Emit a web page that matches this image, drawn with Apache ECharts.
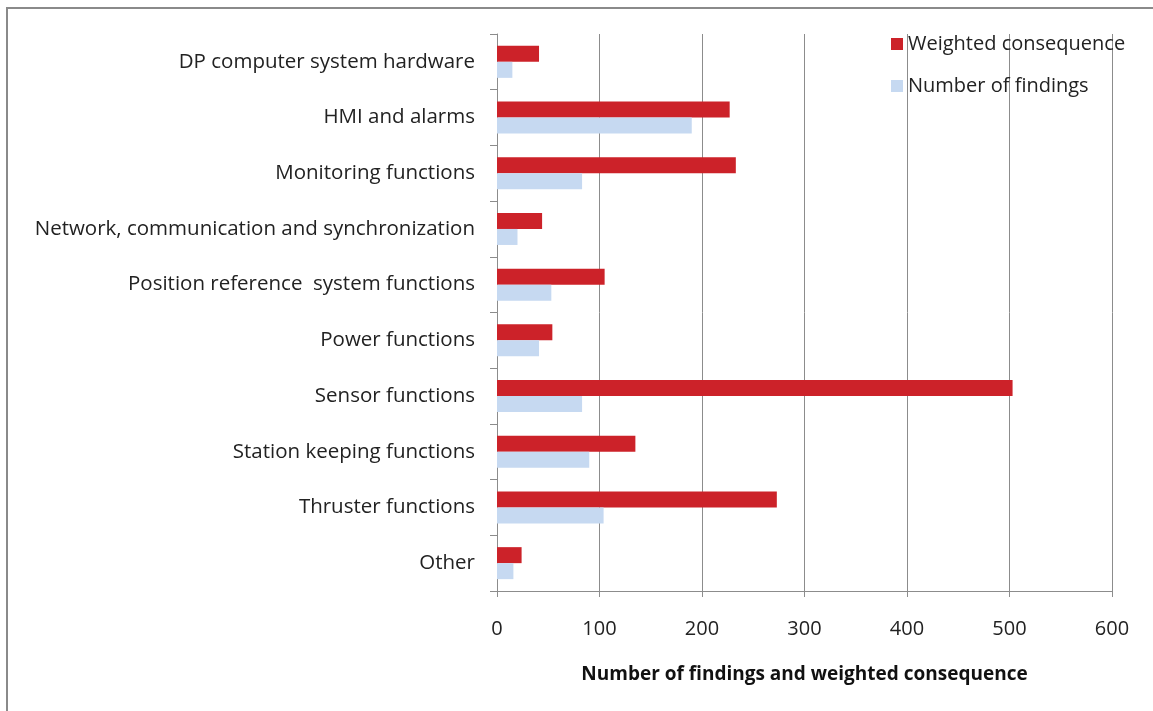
<!DOCTYPE html>
<html>
<head>
<meta charset="utf-8">
<script src="https://cdn.jsdelivr.net/npm/echarts@6/dist/echarts.min.js"></script>
<style>
  html, body { margin: 0; padding: 0; background: #fff; }
  #chart { width: 1153px; height: 711px; }
</style>
</head>
<body>
<div id="chart"></div>
<script>
// DP findings by function group
const categories = [
  'DP computer system hardware',
  'HMI and alarms',
  'Monitoring functions',
  'Network, communication and synchronization',
  'Position reference  system functions',
  'Power functions',
  'Sensor functions',
  'Station keeping functions',
  'Thruster functions',
  'Other'
];
const weightedConsequence = [41, 227, 233, 44, 105, 54, 503, 135, 273, 24];
const numberOfFindings   = [15, 190, 83, 20, 53, 41, 83, 90, 104, 16];
const xTicks = [0, 100, 200, 300, 400, 500, 600];

const FONT = '"Open Sans", "Noto Sans", sans-serif';

const chart = echarts.init(document.getElementById('chart'), null, { renderer: 'canvas' });
chart.setOption({
  animation: false,
  backgroundColor: '#fff',
  graphic: [{
    type: 'rect',
    shape: { x: 7, y: 8, width: 1160, height: 720 },
    style: { fill: 'none', stroke: '#8a8a8a', lineWidth: 2 },
    silent: true
  }],
  grid: { left: 497, right: 41, top: 34, bottom: 120, containLabel: false },
  legend: {
    orient: 'vertical',
    left: 886,
    top: 29,
    itemWidth: 12,
    itemHeight: 12,
    itemGap: 22,
    icon: 'rect',
    itemStyle: { borderWidth: 0 },
    textStyle: { fontFamily: FONT, fontSize: 20, color: '#222' },
    data: ['Weighted consequence', 'Number of findings']
  },
  xAxis: {
    type: 'value',
    min: xTicks[0],
    max: xTicks[xTicks.length - 1],
    interval: 100,
    name: 'Number of findings and weighted consequence',
    nameLocation: 'middle',
    nameGap: 74,
    nameTextStyle: { fontFamily: FONT, fontSize: 19, fontWeight: 'bold', color: '#111' },
    axisLine: { show: true, lineStyle: { color: '#8c8c8c', width: 1 } },
    axisTick: { show: true, length: 6, lineStyle: { color: '#8c8c8c' } },
    axisLabel: { margin: 28, fontFamily: FONT, fontSize: 20, color: '#222' },
    splitLine: { show: true, lineStyle: { color: '#8c8c8c', width: 1 } }
  },
  yAxis: {
    type: 'category',
    inverse: true,
    data: categories,
    axisLine: { show: true, lineStyle: { color: '#8c8c8c', width: 1 } },
    axisTick: { show: true, length: 7, inside: false, lineStyle: { color: '#8c8c8c' } },
    axisLabel: { margin: 22, fontFamily: FONT, fontSize: 20.5, color: '#222' }
  },
  series: [
    {
      name: 'Weighted consequence',
      type: 'bar',
      data: weightedConsequence,
      barWidth: 16,
      barGap: '0%',
      itemStyle: { color: '#CC2229' }
    },
    {
      name: 'Number of findings',
      type: 'bar',
      data: numberOfFindings,
      barWidth: 16,
      barGap: '0%',
      itemStyle: { color: '#C6D9F1' }
    }
  ]
});
</script>
</body>
</html>
